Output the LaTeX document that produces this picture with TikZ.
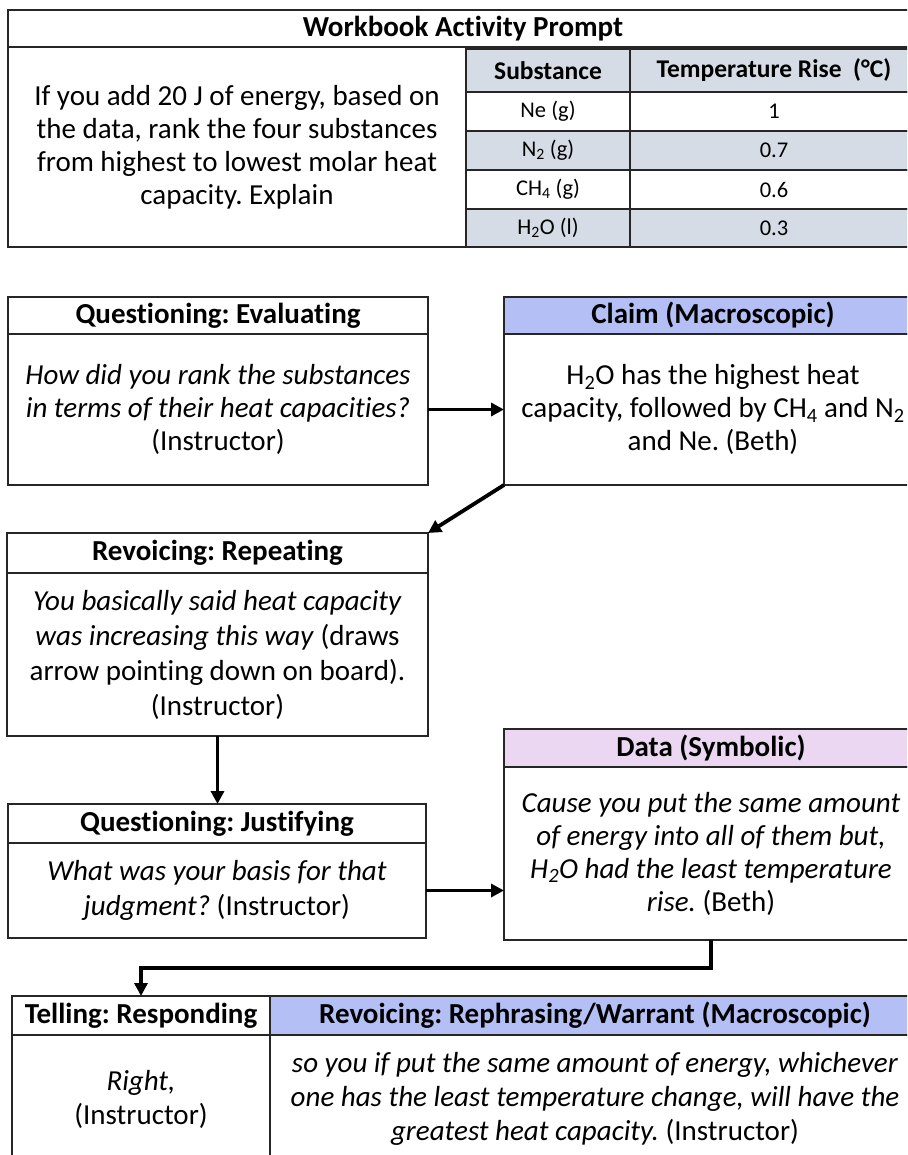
\documentclass[tikz,border=0pt]{standalone}
\usepackage{fontspec}
\setmainfont{Carlito}[Ligatures=NoCommon]
\usetikzlibrary{arrows.meta}
\frenchspacing

\definecolor{rulegray}{HTML}{262626}
\definecolor{tablefill}{HTML}{D6DCE5}
\definecolor{claimfill}{HTML}{B4BFF5}
\definecolor{datafill}{HTML}{ECD7F2}

\tikzset{
  cell/.style={draw=rulegray, line width=1.3pt, inner sep=0pt, outer sep=0pt,
               anchor=north west, align=center, text=black},
  tcell/.style={cell, line width=1.7pt},
  headtxt/.style={font=\fontsize{29}{33}\selectfont\bfseries},
  bodytxt/.style={font=\fontsize{29}{33}\selectfont},
  widetxt/.style={font=\fontsize{29}{35}\selectfont},
  lowtxt/.style={font=\fontsize{29}{34}\selectfont},
  thead/.style={font=\fontsize{25.5}{30}\selectfont\bfseries},
  trow/.style={font=\fontsize{22.5}{27}\selectfont},
  flow/.style={draw=black, line width=3.8pt, -{Triangle[length=13pt,width=13pt]}},
}

\begin{document}
\begin{tikzpicture}[x=1pt,y=-1pt]
\useasboundingbox (0,0) rectangle (907,1155);
\clip (0,0) rectangle (907,1155);

% ---- workbook prompt with data table ----
\node[cell, headtxt, minimum width=910pt, minimum height=37pt] (wtitle) at (8,10) {Workbook Activity Prompt};
\node[cell, bodytxt, minimum width=458pt, minimum height=200pt] (wprompt) at (8,47)
  {If you add 20 J of energy, based on\\the data, rank the four substances\\from highest to lowest molar heat\\capacity. Explain};

\node[tcell, thead, fill=tablefill, minimum width=164pt, minimum height=43pt] (thsub) at (466,49) {Substance};
\node[tcell, thead, fill=tablefill, minimum width=288pt, minimum height=43pt] (thrise) at (630,49) {Temperature Rise~~(°C)};

\node[tcell, trow, fill=white, minimum width=164pt, minimum height=39pt] (subne) at (466,92) {Ne (g)};
\node[tcell, trow, fill=white, minimum width=288pt, minimum height=39pt] (risene) at (630,92) {1};
\node[tcell, trow, fill=tablefill, minimum width=164pt, minimum height=39pt] (subnn) at (466,131) {N\textsubscript{2} (g)};
\node[tcell, trow, fill=tablefill, minimum width=288pt, minimum height=39pt] (risenn) at (630,131) {0.7};
\node[tcell, trow, fill=white, minimum width=164pt, minimum height=39pt] (subch) at (466,170) {CH\textsubscript{4} (g)};
\node[tcell, trow, fill=white, minimum width=288pt, minimum height=39pt] (risech) at (630,170) {0.6};
\node[tcell, trow, fill=tablefill, minimum width=164pt, minimum height=38pt] (subho) at (466,209) {H\textsubscript{2}O (l)};
\node[tcell, trow, fill=tablefill, minimum width=288pt, minimum height=38pt] (riseho) at (630,209) {0.3};

% ---- questioning: evaluating ----
\node[cell, headtxt, fill=white, minimum width=420pt, minimum height=37pt] (evalhead) at (8,297) {Questioning: Evaluating};
\node[cell, bodytxt, fill=white, minimum width=420pt, minimum height=151pt] (evalbody) at (8,334)
  {\textit{How did you rank the substances}\\\textit{in terms of their heat capacities?}\\(Instructor)};

% ---- claim ----
\node[cell, headtxt, fill=claimfill, minimum width=418pt, minimum height=37pt] (claimhead) at (504,297) {Claim (Macroscopic)};
\node[cell, bodytxt, fill=white, minimum width=418pt, minimum height=151pt] (claimbody) at (504,334)
  {H\textsubscript{2}O has the highest heat\\capacity, followed by CH\textsubscript{4} and N\textsubscript{2}\\and Ne. (Beth)};

% ---- revoicing: repeating ----
\node[cell, headtxt, fill=white, minimum width=421pt, minimum height=40pt] (revhead) at (7,533) {Revoicing: Repeating};
\node[cell, widetxt, fill=white, minimum width=421pt, minimum height=163pt] (revbody) at (7,573)
  {\textit{You basically said heat capacity}\\\textit{was increasing this way} (draws\\arrow pointing down on board).\\(Instructor)};

% ---- data ----
\node[cell, headtxt, fill=datafill, minimum width=414pt, minimum height=38pt] (datahead) at (504,729) {Data (Symbolic)};
\node[cell, bodytxt, fill=white, minimum width=414pt, minimum height=173pt] (databody) at (504,767)
  {\textit{Cause you put the same amount}\\\textit{of energy into all of them but,}\\\textit{H\textsubscript{2}O had the least temperature}\\\textit{rise.} (Beth)};

% ---- questioning: justifying ----
\node[cell, headtxt, fill=white, minimum width=418pt, minimum height=39pt] (justhead) at (8,804) {Questioning: Justifying};
\node[cell, widetxt, fill=white, minimum width=418pt, minimum height=95pt] (justbody) at (8,843)
  {\textit{What was your basis for that}\\\textit{judgment?} (Instructor)};

% ---- telling / revoicing table ----
\node[cell, headtxt, fill=white, minimum width=258pt, minimum height=39pt] (tellhead) at (12,996) {Telling: Responding};
\node[cell, lowtxt, fill=white, minimum width=258pt, minimum height=128pt] (tellbody) at (12,1035)
  {\textit{Right,}\\(Instructor)};
\node[cell, headtxt, fill=claimfill, minimum width=650pt, minimum height=39pt] (warrhead) at (270,996) {Revoicing: Rephrasing/Warrant (Macroscopic)};
\node[cell, lowtxt, fill=white, minimum width=650pt, minimum height=128pt] (warrbody) at (270,1035)
  {\textit{so you if put the same amount of energy, whichever}\\\textit{one has the least temperature change, will have the}\\\textit{greatest heat capacity.} (Instructor)};

% ---- connectors ----
\draw[flow] (evalbody.east) -- (claimbody.west);
\draw[flow] (claimbody.south west) -- (revhead.north east);
\draw[flow] (revbody.south) -- (revbody.south |- justhead.north);
\draw[flow] (justbody.east) -- (justbody.east -| databody.west);
\draw[flow] (databody.south) -- ++(0,28) -| (tellhead.north);
\end{tikzpicture}
\end{document}
